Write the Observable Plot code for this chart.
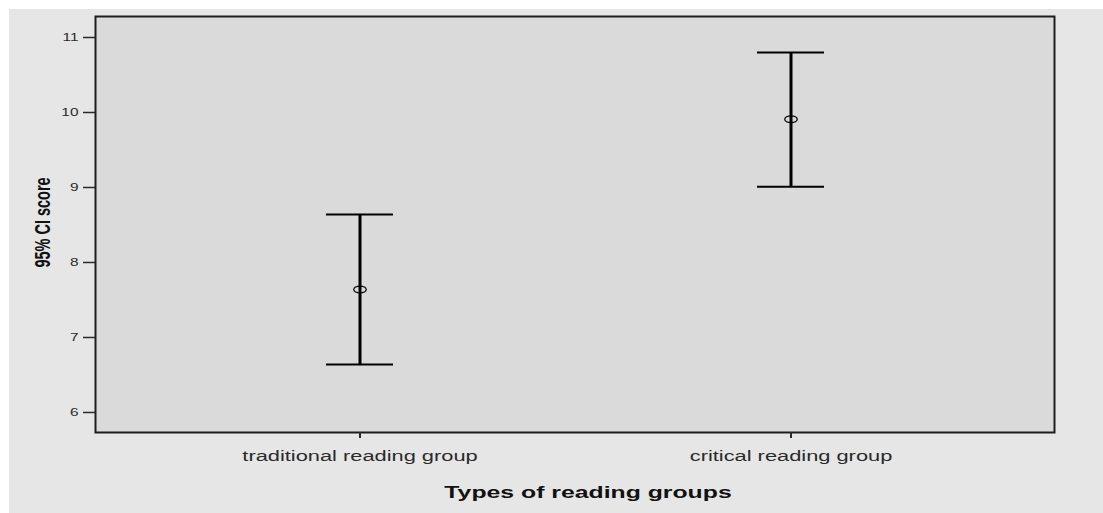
<!DOCTYPE html>
<html><head><meta charset="utf-8">
<script src="https://cdn.jsdelivr.net/npm/d3@7"></script>
<script src="https://cdn.jsdelivr.net/npm/@observablehq/plot@0.6"></script>
<style>
body{margin:0;background:#fff;}
#wrap{padding:9px 0 0 9px;}
#wrap svg{display:block;}
</style></head><body><div id="wrap"></div>
<script>
const groups = ["traditional reading group", "critical reading group"];
const means = [7.64, 9.91];
const lower = [6.64, 9.01];
const upper = [8.64, 10.80];
const yTicks = [6, 7, 8, 9, 10, 11];
const xTitle = "Types of reading groups";
const yTitle = "95% CI score";

const data = groups.map((g, i) => ({group: g, mean: means[i], lower: lower[i], upper: upper[i]}));

// small horizontal ellipse marker (like the SPSS circle, stretched)
const ellipse = {draw(ctx) {
  const rx = 6.2, ry = 3.4, k = 0.5523;
  ctx.moveTo(rx, 0);
  ctx.bezierCurveTo(rx, ry * k, rx * k, ry, 0, ry);
  ctx.bezierCurveTo(-rx * k, ry, -rx, ry * k, -rx, 0);
  ctx.bezierCurveTo(-rx, -ry * k, -rx * k, -ry, 0, -ry);
  ctx.bezierCurveTo(rx * k, -ry, rx, -ry * k, rx, 0);
  ctx.closePath();
}};

const chart = Plot.plot({
  width: 1094, height: 504,
  marginLeft: 86, marginTop: 7, marginRight: 49, marginBottom: 81,
  style: {background: "#e6e6e6", fontFamily: "'Liberation Sans', Arial, sans-serif", color: "#2a2a2a"},
  x: {type: "band", domain: groups, paddingInner: 0.845, paddingOuter: 0.533, label: null},
  y: {domain: [5.733, 11.28], label: null},
  marks: [
    Plot.frame({fill: "#dadada", stroke: "#1e1e1e", strokeWidth: 2}),
    Plot.axisY({ticks: yTicks, tickFormat: "d", tickSize: 12, tickPadding: 5, fontSize: 11, strokeWidth: 1.5, label: null}),
    Plot.axisX({tickSize: 6, tickPadding: 13, fontSize: 14, strokeWidth: 2, label: null}),
    Plot.ruleX(data, {x: "group", y1: "lower", y2: "upper", stroke: "#000", strokeWidth: 3}),
    Plot.tickY(data, {x: "group", y: "lower", stroke: "#000", strokeWidth: 1.8}),
    Plot.tickY(data, {x: "group", y: "upper", stroke: "#000", strokeWidth: 1.8}),
    Plot.dot(data, {x: "group", y: "mean", symbol: ellipse, stroke: "#000", fill: "none", strokeWidth: 1.3}),
    Plot.text([xTitle], {frameAnchor: "bottom", dy: 60, dx: 13, textAnchor: "middle", lineAnchor: "middle", fontSize: 16, fontWeight: "bold", fill: "#111"}),
    Plot.text([yTitle], {frameAnchor: "left", dx: -52.5, dy: -2, rotate: -90, textAnchor: "middle", lineAnchor: "middle", fontSize: 14.5, fontWeight: "bold", fill: "#111"})
  ]
});

// reproduce the horizontally stretched text of the original image
function scaleTexts(sel, sx, sy) {
  sel.each(function() {
    const t = this.getAttribute("transform") || "";
    this.setAttribute("transform", t + ` scale(${sx},${sy})`);
  });
}
const svg = d3.select(chart);
scaleTexts(svg.selectAll('g[aria-label="y-axis tick label"] text'), 1.4, 1);
scaleTexts(svg.selectAll('g[aria-label="x-axis tick label"] text'), 1.56, 1);
scaleTexts(svg.selectAll('text').filter(function() { return this.textContent === xTitle; }), 1.55, 1);
scaleTexts(svg.selectAll('text').filter(function() { return this.textContent === yTitle; }), 1, 1.5);

document.getElementById("wrap").append(chart);
</script>
</body></html>
